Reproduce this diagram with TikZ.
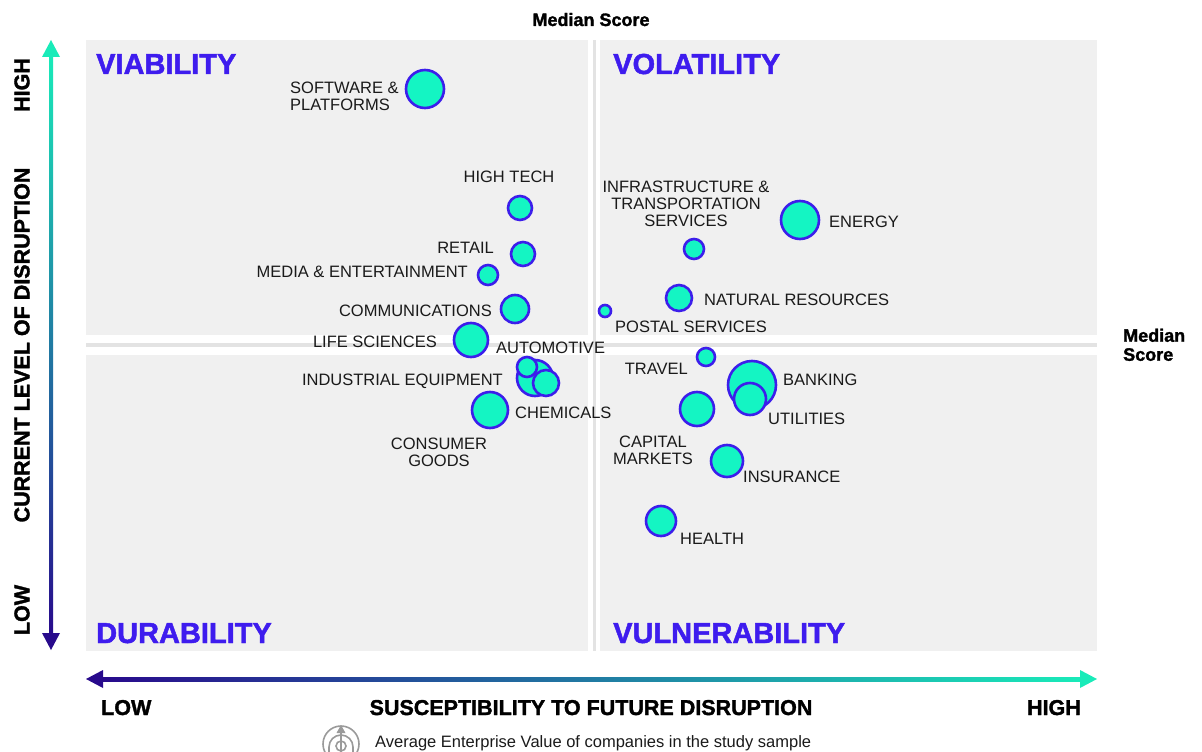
\documentclass[tikz,border=0pt]{standalone}
\usepackage{fontspec}
\setmainfont{Liberation Sans}
\newfontfamily\heavyfont[RawFeature={embolden=1.6}]{Liberation Sans Bold}
\definecolor{panel}{HTML}{F0F0F0}
\definecolor{medline}{HTML}{E3E3E3}
\definecolor{bubfill}{RGB}{20,245,195}
\definecolor{bubline}{RGB}{60,30,235}
\definecolor{quadc}{RGB}{62,28,238}
\definecolor{labelc}{HTML}{1A1A1A}
\definecolor{axdark}{RGB}{40,10,140}
\definecolor{axteal}{RGB}{25,235,185}
\definecolor{icong}{HTML}{9A9A9A}
\begin{document}
\begin{tikzpicture}[x=1pt,y=-1pt,
  lbl/.style={font=\fontsize{16.5}{17}\selectfont, text=labelc, inner sep=0pt},
  quad/.style={font=\heavyfont\fontsize{29}{32}\selectfont, text=quadc, inner sep=0pt, anchor=base west},
  axl/.style={font=\heavyfont\fontsize{21.5}{24}\selectfont, text=black, inner sep=0pt},
  med/.style={font=\heavyfont\fontsize{18}{19}\selectfont, text=black, inner sep=0pt},
  bub/.style={circle, draw=bubline, fill=bubfill, line width=2.6pt, inner sep=0pt, minimum size=#1},
]
\useasboundingbox (0,0) rectangle (1202,752);
% panels
\fill[panel] (86,40) rectangle (588,335);
\fill[panel] (600,40) rectangle (1097,335);
\fill[panel] (86,355) rectangle (588,651);
\fill[panel] (600,355) rectangle (1097,651);
\draw[medline, line width=3.5pt] (86,345) -- (1097,345);
\draw[medline, line width=3pt] (594,40) -- (594,651);

% quadrant titles
\node[quad] (viab) at (96,74) {VIABILITY};
\node[quad] (vola) at (613,74) {VOLATILITY};
\node[quad] (dura) at (96,643) {DURABILITY};
\node[quad] (vuln) at (613,643) {VULNERABILITY};

% median labels
\node[med, anchor=base] (medtop) at (591,26) {Median Score};
\node[med, anchor=north west, align=left] (medright) at (1123,328.5) {Median\\Score};

% vertical axis arrow
\shade[top color=axteal, bottom color=axdark] (49,54) rectangle (53,636);
\fill[axteal] (51,40) -- (42,57) -- (60,57) -- cycle;
\fill[axdark] (51,650) -- (42,633) -- (60,633) -- cycle;
% horizontal axis arrow
\shade[left color=axdark, right color=axteal] (100,677) rectangle (1083,681);
\fill[axdark] (86,679) -- (103,670) -- (103,688) -- cycle;
\fill[axteal] (1097,679) -- (1080,670) -- (1080,688) -- cycle;

% axis labels
\node[axl, rotate=90] (yhigh) at (22,85) {HIGH};
\node[axl, rotate=90] (ytitle) at (22,345) {CURRENT LEVEL OF DISRUPTION};
\node[axl, rotate=90] (ylow) at (22,610) {LOW};
\node[axl, anchor=base west] (xlow) at (101,715) {LOW};
\node[axl, anchor=base] (xtitle) at (591,715) {SUSCEPTIBILITY TO FUTURE DISRUPTION};
\node[axl, anchor=base east] (xhigh) at (1081,715) {HIGH};

% bubbles
\node[bub=38pt] (b-soft) at (425,89) {};
\node[bub=24pt] (b-htech) at (520,208) {};
\node[bub=24pt] (b-retail) at (523,254) {};
\node[bub=20pt] (b-media) at (488,275) {};
\node[bub=28pt] (b-comm) at (515,309) {};
\node[bub=34pt] (b-life) at (471,340) {};
\node[bub=36pt] (b-auto1) at (535,378) {};
\node[bub=26pt] (b-auto2) at (546,383) {};
\node[bub=20pt] (b-auto3) at (527,367) {};
\node[bub=36pt] (b-chem) at (490,410) {};
\node[bub=12pt] (b-postal) at (605,311) {};
\node[bub=20pt] (b-infra) at (694,249) {};
\node[bub=38pt] (b-energy) at (800,220) {};
\node[bub=26pt] (b-natres) at (679,298) {};
\node[bub=18pt] (b-travel) at (706,357) {};
\node[bub=48pt] (b-bank) at (752,385) {};
\node[bub=32pt] (b-util) at (750,399) {};
\node[bub=34pt] (b-capm) at (697,409) {};
\node[bub=32pt] (b-ins) at (727,461) {};
\node[bub=30pt] (b-health) at (661,521) {};

% bubble labels
\node[lbl, anchor=north west, align=left] (l-soft) at (290,82) {SOFTWARE \&\\PLATFORMS};
\node[lbl, anchor=base] (l-htech) at (509,182) {HIGH TECH};
\node[lbl, anchor=north, align=center] (l-infra) at (686,181) {INFRASTRUCTURE \&\\TRANSPORTATION\\SERVICES};
\node[lbl, anchor=base west] (l-energy) at (829,227) {ENERGY};
\node[lbl, anchor=base east] (l-retail) at (494,253) {RETAIL};
\node[lbl, anchor=base east] (l-media) at (468,277) {MEDIA \& ENTERTAINMENT};
\node[lbl, anchor=base east] (l-comm) at (492,316) {COMMUNICATIONS};
\node[lbl, anchor=base west] (l-natres) at (704,305) {NATURAL RESOURCES};
\node[lbl, anchor=base west] (l-postal) at (615,332) {POSTAL SERVICES};
\node[lbl, anchor=base east] (l-life) at (437,347) {LIFE SCIENCES};
\node[lbl, anchor=base west] (l-auto) at (496,353) {AUTOMOTIVE};
\node[lbl, anchor=base east] (l-travel) at (688,374) {TRAVEL};
\node[lbl, anchor=base west] (l-bank) at (783,385) {BANKING};
\node[lbl, anchor=base east] (l-indeq) at (503,385) {INDUSTRIAL EQUIPMENT};
\node[lbl, anchor=base west] (l-chem) at (515,418) {CHEMICALS};
\node[lbl, anchor=base west] (l-util) at (768,424) {UTILITIES};
\node[lbl, anchor=north, align=center] (l-cons) at (439,438) {CONSUMER\\GOODS};
\node[lbl, anchor=north, align=center] (l-capm) at (653,436) {CAPITAL\\MARKETS};
\node[lbl, anchor=base west] (l-ins) at (743,482) {INSURANCE};
\node[lbl, anchor=base west] (l-health) at (680,544) {HEALTH};

% legend
\draw[icong, line width=1.6pt] (341,744) circle[radius=18];
\draw[icong, line width=1.6pt] (329,752) -- (329,747) arc[start angle=180, end angle=360, radius=12] -- (353,752);
\draw[icong, line width=1.6pt] (341,746) circle[radius=5];
\draw[icong, line width=1.6pt] (341,730) -- (341,752);
\fill[icong] (341,725) -- (336.5,733) -- (345.5,733) -- cycle;
\node[lbl, anchor=base west] (legend) at (375,747) {Average Enterprise Value of companies in the study sample};
\end{tikzpicture}
\end{document}
